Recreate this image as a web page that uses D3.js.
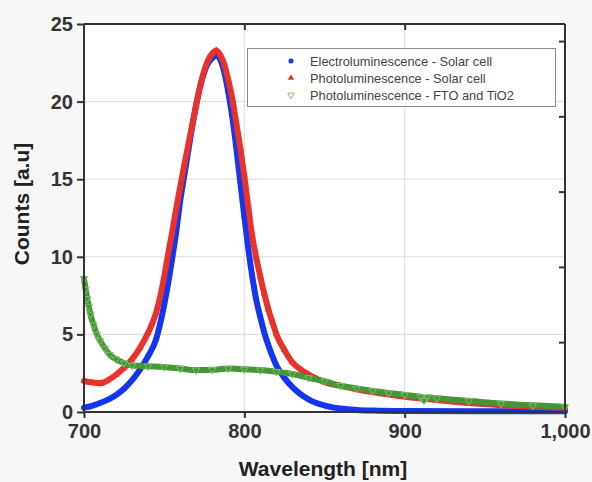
<!DOCTYPE html>
<html><head><meta charset="utf-8">
<script src="https://cdn.jsdelivr.net/npm/d3@7"></script>
<style>
html,body{margin:0;padding:0;background:#f7f7f7;}
svg{display:block;font-family:"Liberation Sans",Arial,sans-serif;}
</style></head>
<body><svg id="c" width="592" height="482"></svg>
<script>
// ---- data ----
const seriesNames = ["Electroluminescence - Solar cell","Photoluminescence - Solar cell","Photoluminescence - FTO and TiO2"];
const wlEL = [700,705,710,715,720,725,730,735,740,745,750,752.5,755,757.5,760,762.5,765,767.5,770,772.5,775,777.5,780,782.5,785,787.5,790,792.5,795,797.5,800,802.5,805,807.5,810,812.5,815,817.5,820,825,830,835,840,845,850,855,860,870,880,900,950,1000];
const elSolar = [0.28,0.40,0.58,0.80,1.10,1.50,2.05,2.75,3.60,4.70,6.90,8.3,9.9,11.6,13.6,15.2,16.8,18.4,19.8,21.0,21.9,22.5,22.8,23.0,22.7,21.9,20.6,19.0,17.0,14.8,12.6,10.5,8.7,7.2,6.1,5.1,4.3,3.6,3.0,2.2,1.6,1.15,0.82,0.58,0.42,0.30,0.22,0.13,0.09,0.06,0.05,0.05];
const wlPL = [700,705,710,715,720,725,730,735,740,745,750,752.5,755,757.5,760,762.5,765,767.5,770,772.5,775,777.5,780,782.5,785,787.5,790,792.5,795,797.5,800,802.5,805,807.5,810,812.5,815,817.5,820,825,830,835,840,845,850,860,870,880,890,900,920,940,960,980,1000];
const plSolar = [2.0,1.9,1.85,2.05,2.4,2.85,3.4,4.15,5.1,6.4,8.7,10.2,11.6,13.1,14.5,15.9,17.2,18.5,19.8,21.0,22.0,22.7,23.1,23.3,23.0,22.4,21.4,20.2,18.6,17.0,15.2,13.2,11.3,9.9,8.7,7.6,6.6,5.8,5.0,4.0,3.2,2.75,2.42,2.15,1.92,1.68,1.47,1.28,1.12,0.98,0.78,0.58,0.44,0.34,0.27];
const wlFTO = [700,701,702,703,704,706,708,710,713,716,720,725,730,740,750,760,770,780,790,800,810,820,830,840,850,860,870,880,890,900,910,912,914,920,940,960,980,1000];
const plFTO = [8.6,7.9,7.3,6.8,6.3,5.6,5.0,4.6,4.1,3.7,3.4,3.15,3.0,2.95,2.9,2.8,2.7,2.72,2.8,2.75,2.7,2.6,2.45,2.2,1.98,1.7,1.52,1.36,1.22,1.1,0.98,0.75,0.95,0.88,0.72,0.55,0.43,0.34];
const xTicks = [700,800,900,1000];
const yTicks = [0,5,10,15,20,25];
const yRightTicks = [4.5,9.35,14.2,19.05,23.9];
const colors = ["#1436ee","#e8322c","#459636"];

// ---- chart ----
const svg = d3.select("#c");
const x = d3.scaleLinear().domain([700,1000]).range([84,565]);
const y = d3.scaleLinear().domain([0,25]).range([412,24]);

svg.append("rect").attr("x",84).attr("y",24).attr("width",481).attr("height",388).attr("fill","#ffffff");

// grid
svg.append("g").selectAll("line").data(yTicks.filter(d=>d>0&&d<25)).join("line")
  .attr("x1",84).attr("x2",565).attr("y1",d=>y(d)).attr("y2",d=>y(d))
  .attr("stroke","#dcdcdc").attr("stroke-width",1);
svg.append("g").selectAll("line").data(xTicks.filter(d=>d>700&&d<1000)).join("line")
  .attr("x1",d=>x(d)).attr("x2",d=>x(d)).attr("y1",24).attr("y2",412)
  .attr("stroke","#dcdcdc").attr("stroke-width",1);

const data = [
  {wl:wlEL, v:elSolar, c:colors[0], sym:d3.symbolCircle},
  {wl:wlPL, v:plSolar, c:colors[1], sym:d3.symbolTriangle},
  {wl:wlFTO, v:plFTO, c:colors[2], sym:d3.symbolTriangle}
];
const line = d3.line().x(d=>x(d[0])).y(d=>y(d[1])).curve(d3.curveMonotoneX);
data.forEach((s,i)=>{
  const pts = s.wl.map((w,j)=>[w,s.v[j]]);
  svg.append("path").datum(pts).attr("d",line).attr("fill","none")
    .attr("stroke",s.c).attr("stroke-width",6).attr("stroke-linejoin","round").attr("stroke-linecap","round");
  svg.append("g").selectAll("path").data(pts).join("path")
    .attr("d",d3.symbol().type(s.sym).size(i===2?24:20))
    .attr("transform",d=>`translate(${x(d[0])},${y(d[1])})${i===2?" rotate(180)":""}`)
    .attr("fill",i===2?"none":s.c).attr("stroke",i===2?"#7fbf6f":"none").attr("stroke-width",1);
});

// axes
const fontTick = g=>g.selectAll("text").attr("font-size",20).attr("font-weight","bold").attr("fill","#333")
  .attr("font-family","'Liberation Sans',Arial,sans-serif");
const axL = svg.append("g").attr("transform","translate(84,0)")
  .call(d3.axisLeft(y).tickValues(yTicks).tickFormat(d3.format("d")).tickSize(7).tickPadding(4));
fontTick(axL);
const axB = svg.append("g").attr("transform","translate(0,412)")
  .call(d3.axisBottom(x).tickValues(xTicks).tickFormat(d3.format(",")).tickSize(6).tickPadding(6));
fontTick(axB);
const axT = svg.append("g").attr("transform","translate(0,24)")
  .call(d3.axisTop(x).tickValues([800,900]).tickFormat("").tickSize(-6));
const axR = svg.append("g").attr("transform","translate(565,0)")
  .call(d3.axisRight(y).tickValues(yRightTicks).tickFormat("").tickSize(-6));
[axL,axB,axT,axR].forEach(a=>{
  a.select(".domain").attr("stroke","#333").attr("stroke-width",2);
  a.selectAll(".tick line").attr("stroke","#333").attr("stroke-width",2);
});
axL.select(".domain").attr("d","M0,24V412");
axB.select(".domain").attr("d","M84,0H565");
axT.select(".domain").attr("d","M84,0H565");
axR.select(".domain").attr("d","M0,24V412");

// axis titles
svg.append("text").attr("x",323).attr("y",476).attr("text-anchor","middle")
  .attr("font-size",21).attr("font-weight","bold").attr("fill","#222").text("Wavelength [nm]");
svg.append("text").attr("transform","translate(29,204) rotate(-90)").attr("text-anchor","middle")
  .attr("font-size",21).attr("font-weight","bold").attr("fill","#222").text("Counts [a.u]");

// legend
const lg = svg.append("g");
lg.append("rect").attr("x",247.5).attr("y",48.5).attr("width",308).attr("height",58)
  .attr("fill","#fff").attr("stroke","#8a8a8a").attr("stroke-width",1);
seriesNames.forEach((n,i)=>{
  const yy = 61 + i*17;
  lg.append("path").attr("d",d3.symbol().type(data[i].sym).size(i===0?20:18))
    .attr("transform",`translate(291,${yy})${i===2?" rotate(180)":""}`)
    .attr("fill",i===2?"none":data[i].c).attr("stroke",i===2?"#7fbf6f":"none");
  lg.append("text").attr("x",310).attr("y",yy+4.5).attr("font-size",12.8).attr("fill","#444").text(n);
});
</script></body></html>
